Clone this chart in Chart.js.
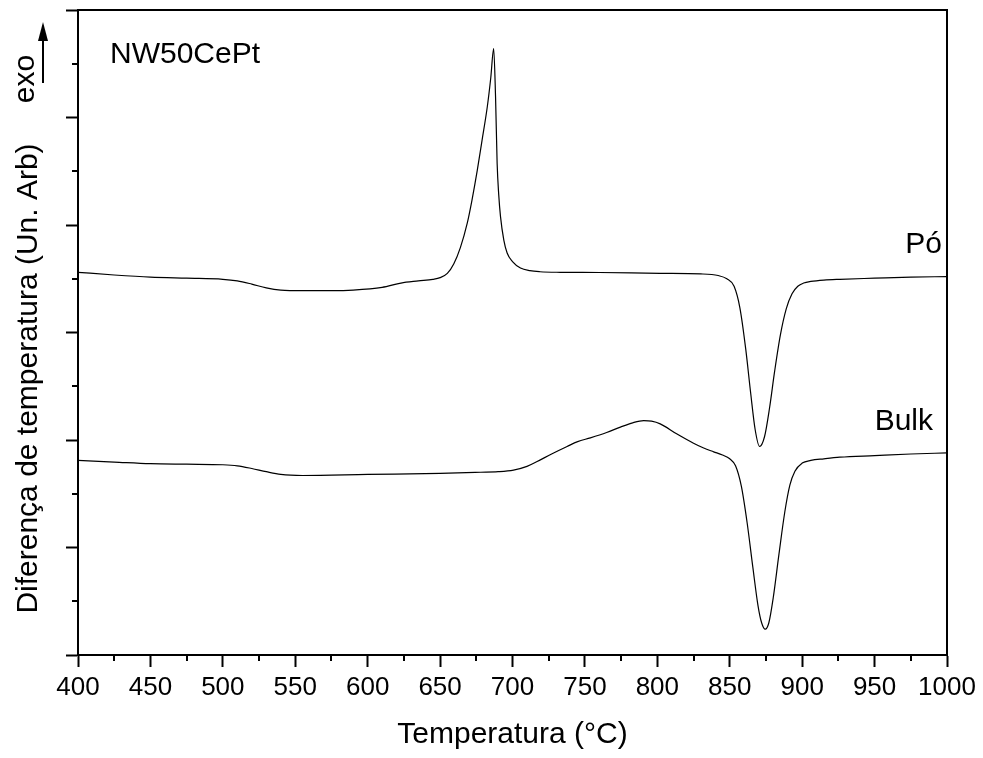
<!DOCTYPE html>
<html>
<head>
<meta charset="UTF-8">
<title>NW50CePt - DTA</title>
<script src="https://cdn.jsdelivr.net/npm/chart.js"></script>
<style>
  html, body { margin: 0; padding: 0; background: #fff; }
</style>
</head>
<body>
<canvas id="dta" width="983" height="758"></canvas>
<script>
// curva do pó
const temperaturaPo = [400, 425, 450, 475, 500, 510, 520, 530, 540, 555, 575, 590, 610, 623, 635, 645, 650, 655, 659.5, 664,
  668.8, 672, 675.7, 679, 682.6, 685, 687, 688.3, 689.4, 690.5, 691.7, 694, 696.3, 700, 705.5, 712, 719, 733, 760, 802,
  830, 842, 848, 853, 857, 861, 864.5, 867.5, 870.6, 874, 877.5, 881, 885, 889, 893, 897, 901, 906, 915, 926,
  950, 975, 1000];
const sinalPo = [35.6, 35.35, 35.15, 35.05, 34.95, 34.8, 34.5, 34.15, 33.95, 33.9, 33.9, 33.95, 34.2, 34.6, 34.8, 34.95, 35.1, 35.5, 36.4, 37.9,
  40.2, 42.3, 45.1, 47.9, 51.0, 53.7, 56.4, 51.9, 45.7, 42.8, 40.8, 38.6, 37.4, 36.6, 36.0, 35.75, 35.65, 35.6, 35.58, 35.5,
  35.45, 35.3, 35.0, 34.3, 32.3, 28.5, 24.3, 21.0, 19.4, 20.3, 23.0, 26.4, 29.8, 32.2, 33.6, 34.3, 34.6, 34.75, 34.88, 34.95,
  35.05, 35.15, 35.2];

// curva do bulk
const temperaturaBulk = [400, 425, 450, 475, 500, 510, 520, 530, 540, 555, 600, 650, 678, 690, 700.7, 710, 717, 727, 737.7, 745,
  753.8, 765, 774.5, 783, 790.6, 796, 802, 813, 825, 832, 838.9, 845, 850, 854, 858, 862, 866, 869.5, 872, 874.5,
  877, 880, 884, 888, 891.5, 895, 900, 906, 915, 926, 950, 975, 1000];
const sinalBulk = [18.1, 17.95, 17.8, 17.75, 17.7, 17.6, 17.35, 17.05, 16.8, 16.7, 16.8, 16.9, 17.0, 17.05, 17.2, 17.55, 18.0, 18.7, 19.4, 19.85,
  20.2, 20.7, 21.2, 21.6, 21.8, 21.75, 21.5, 20.6, 19.7, 19.25, 18.9, 18.6, 18.25, 17.6, 15.7, 12.3, 8.1, 4.6, 3.0, 2.4,
  3.0, 5.3, 9.4, 13.3, 15.8, 17.1, 17.85, 18.1, 18.25, 18.4, 18.55, 18.7, 18.8];

// marcas dos eixos
const xMajor = [400, 450, 500, 550, 600, 650, 700, 750, 800, 850, 900, 950, 1000];
const xMinor = [425, 475, 525, 575, 625, 675, 725, 775, 825, 875, 925, 975];
const yMajor = [0, 10, 20, 30, 40, 50, 60];
const yMinor = [5, 15, 25, 35, 45, 55];

const FONT = 'Liberation Sans, Arial, sans-serif';
Chart.defaults.font.family = FONT;
Chart.defaults.color = '#000';

const toPoints = (xs, ys) => xs.map((x, i) => ({ x: x, y: ys[i] }));

// moldura, marcas menores e textos
const extras = {
  id: 'extras',
  afterDraw(chart) {
    const ctx = chart.ctx;
    const a = chart.chartArea;
    const sx = chart.scales.x, sy = chart.scales.y;
    ctx.save();
    ctx.strokeStyle = '#000';
    ctx.lineWidth = 2;
    ctx.strokeRect(a.left, a.top, a.right - a.left, a.bottom - a.top);

    ctx.beginPath();
    xMinor.forEach(v => {
      const px = Math.round(sx.getPixelForValue(v));
      ctx.moveTo(px, a.bottom);
      ctx.lineTo(px, a.bottom + 6);
    });
    yMinor.forEach(v => {
      const py = Math.round(sy.getPixelForValue(v));
      ctx.moveTo(a.left - 6, py);
      ctx.lineTo(a.left, py);
    });
    ctx.stroke();

    ctx.fillStyle = '#000';
    ctx.font = '30px ' + FONT;
    ctx.textBaseline = 'alphabetic';
    ctx.textAlign = 'left';
    ctx.fillText('NW50CePt', 110, 63);
    ctx.textAlign = 'right';
    ctx.fillText('Pó', 942, 253);
    ctx.fillText('Bulk', 933, 430);

    // título do eixo y
    ctx.save();
    ctx.translate(36.5, 378.5);
    ctx.rotate(-Math.PI / 2);
    ctx.textAlign = 'center';
    ctx.fillText('Diferença de temperatura (Un. Arb)', 0, 0);
    ctx.restore();

    // exo + seta
    ctx.save();
    ctx.translate(34, 79);
    ctx.rotate(-Math.PI / 2);
    ctx.textAlign = 'center';
    ctx.fillText('exo', 0, 0);
    ctx.restore();

    ctx.beginPath();
    ctx.moveTo(43, 83);
    ctx.lineTo(43, 38);
    ctx.stroke();
    ctx.beginPath();
    ctx.moveTo(43, 22);
    ctx.lineTo(38, 41);
    ctx.lineTo(48, 41);
    ctx.closePath();
    ctx.fill();
    ctx.restore();
  }
};

new Chart(document.getElementById('dta'), {
  type: 'line',
  data: {
    datasets: [
      { label: 'Pó', data: toPoints(temperaturaPo, sinalPo) },
      { label: 'Bulk', data: toPoints(temperaturaBulk, sinalBulk) }
    ]
  },
  options: {
    responsive: false,
    animation: false,
    layout: { padding: { top: 10, right: 36, left: 0, bottom: 0 } },
    elements: {
      point: { radius: 0 },
      line: { borderColor: '#000', borderWidth: 1.2, cubicInterpolationMode: 'monotone' }
    },
    plugins: { legend: { display: false }, tooltip: { enabled: false } },
    scales: {
      x: {
        type: 'linear', min: 400, max: 1000,
        afterBuildTicks: s => { s.ticks = xMajor.map(v => ({ value: v })); },
        afterFit: s => { s.height = 103; },
        grid: { drawOnChartArea: false, drawTicks: true, tickLength: 12, tickWidth: 2, tickColor: '#000' },
        border: { display: true, color: '#000', width: 2 },
        ticks: { color: '#000', font: { size: 26 }, padding: 5, maxRotation: 0, autoSkip: false,
                 callback: v => String(v) },
        title: { display: true, text: 'Temperatura (°C)', color: '#000', font: { size: 30 }, padding: { top: 0, bottom: 5 } }
      },
      y: {
        type: 'linear', min: 0, max: 60,
        afterBuildTicks: s => { s.ticks = yMajor.map(v => ({ value: v })); },
        afterFit: s => { s.width = 78; },
        grid: { drawOnChartArea: false, drawTicks: true, tickLength: 12, tickWidth: 2, tickColor: '#000' },
        border: { display: true, color: '#000', width: 2 },
        ticks: { display: false }
      }
    }
  },
  plugins: [extras]
});
</script>
</body>
</html>
